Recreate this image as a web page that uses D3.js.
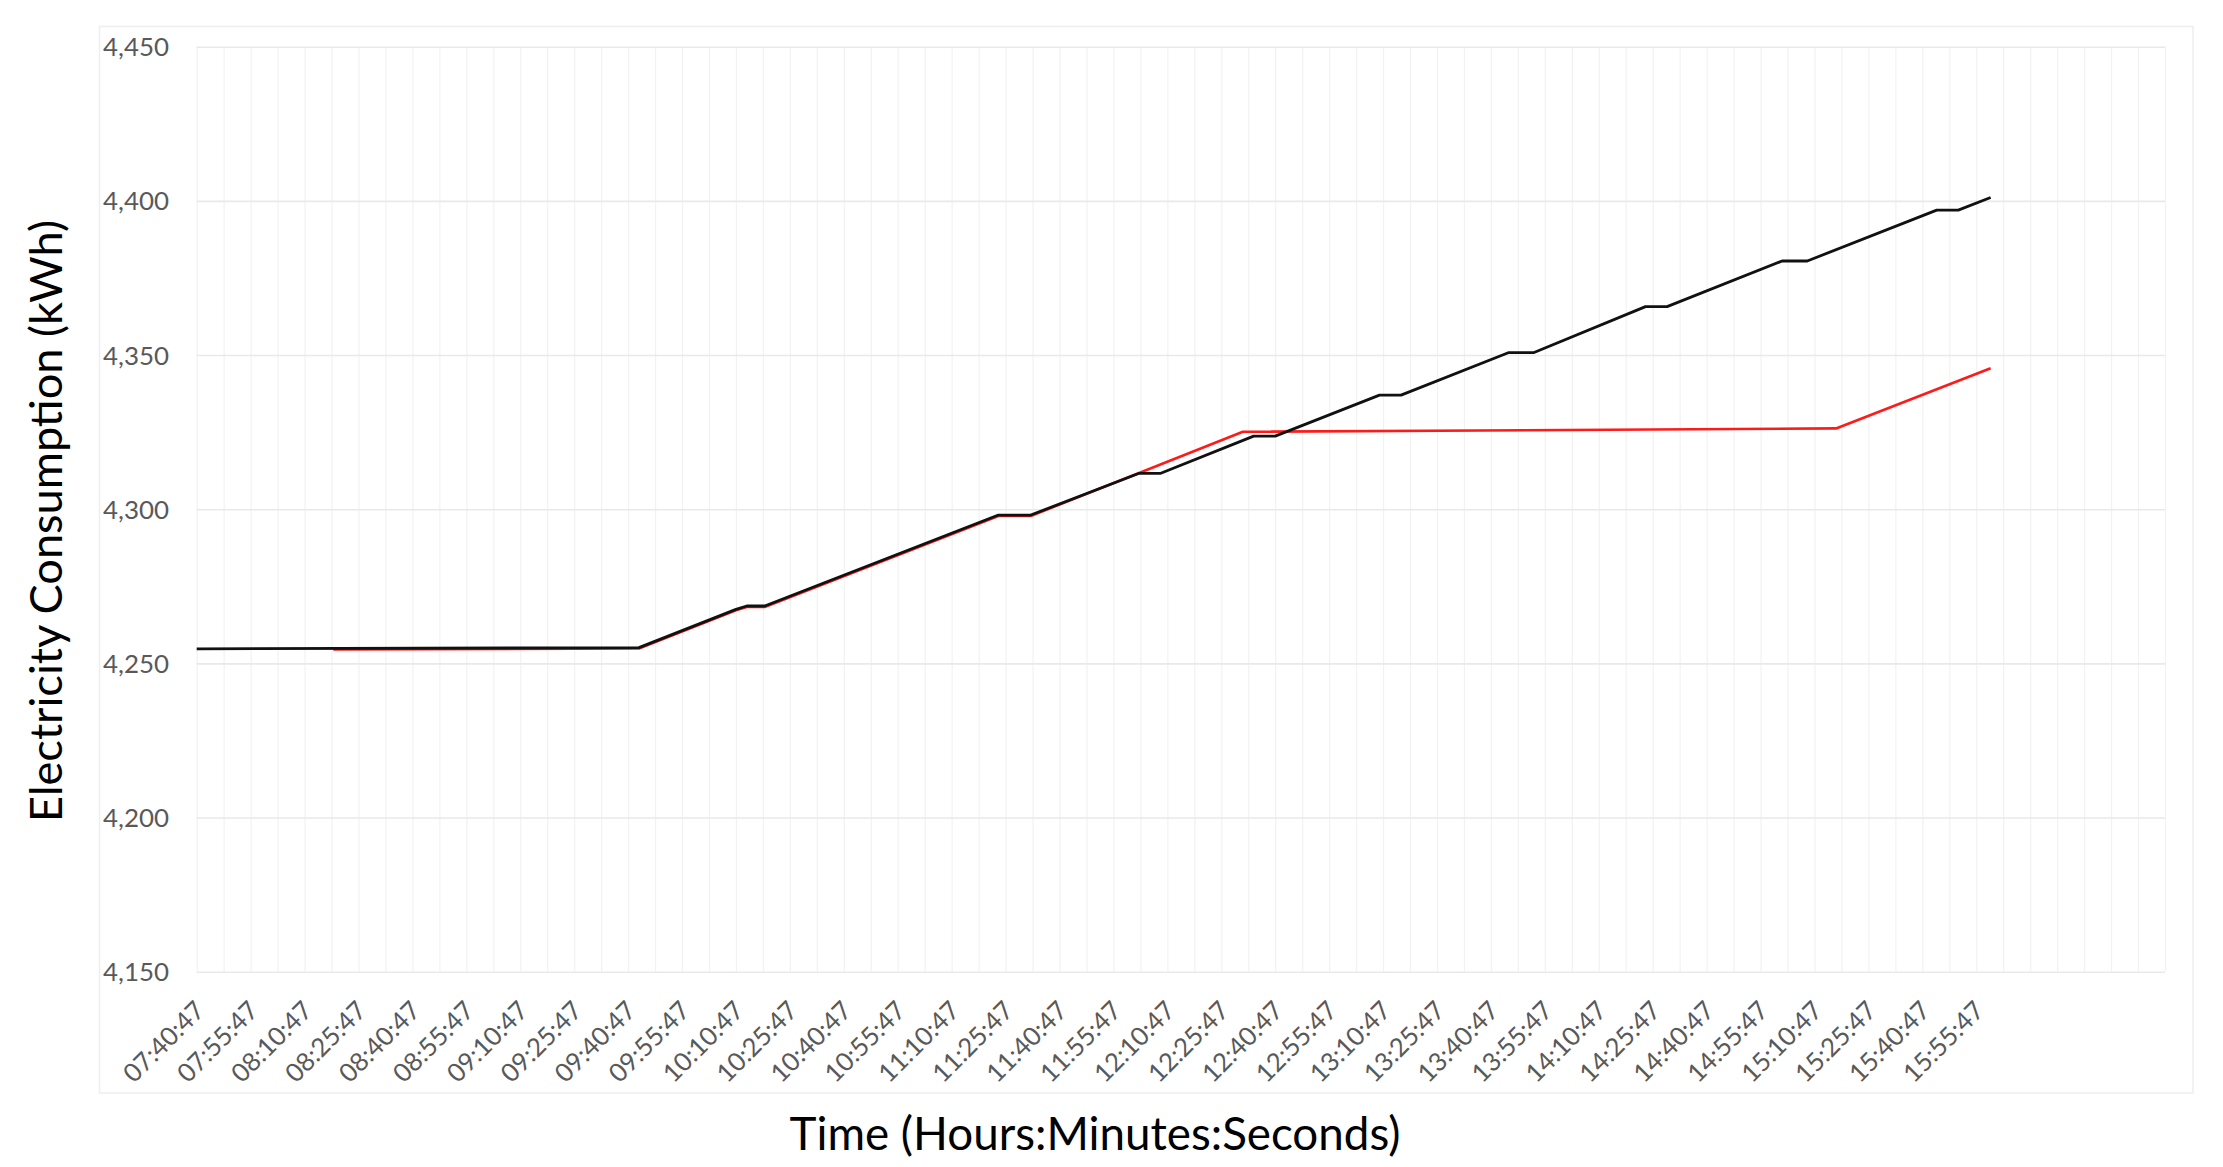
<!DOCTYPE html>
<html>
<head>
<meta charset="utf-8">
<script src="https://cdn.jsdelivr.net/npm/d3@7"></script>
<style>
  html, body { margin: 0; padding: 0; background: #ffffff; }
  svg { display: block; }
  text { font-family: Lato, "Open Sans", "DejaVu Sans", sans-serif; }
</style>
</head>
<body>
<svg id="chart" width="2223" height="1167"></svg>
<script>
// ---------------- data ----------------
const startTime = "07:40:47";
const xTickLabels = ["07:40:47","07:55:47","08:10:47","08:25:47","08:40:47","08:55:47","09:10:47","09:25:47",
  "09:40:47","09:55:47","10:10:47","10:25:47","10:40:47","10:55:47","11:10:47","11:25:47","11:40:47",
  "11:55:47","12:10:47","12:25:47","12:40:47","12:55:47","13:10:47","13:25:47","13:40:47","13:55:47",
  "14:10:47","14:25:47","14:40:47","14:55:47","15:10:47","15:25:47","15:40:47","15:55:47"];
const yTickValues = [4150, 4200, 4250, 4300, 4350, 4400, 4450];

const blackTimes = ["07:40:47","09:43:47","10:10:47","10:13:47","10:18:47","11:23:47","11:32:47","12:02:47",
  "12:08:47","12:34:47","12:40:47","13:09:47","13:15:47","13:45:47","13:52:47","14:23:47","14:29:47",
  "15:01:47","15:08:47","15:44:47","15:50:47","15:59:47"];
const blackValues = [4254.7,4255.1,4267.5,4268.6,4268.6,4298.1,4298.1,4311.6,
  4311.6,4323.7,4323.7,4337.0,4337.0,4350.8,4350.8,4365.7,4365.7,
  4380.5,4380.5,4397.0,4397.0,4401.1];

const redTimes = ["08:18:47","09:43:47","10:10:47","10:13:47","10:18:47","11:23:47","11:32:47","12:31:47",
  "15:16:47","15:59:47"];
const redValues = [4254.5,4254.8,4267.2,4268.3,4268.3,4297.8,4297.8,4325.1,
  4326.2,4345.7];

// ---------------- helpers ----------------
function toSec(t) { const p = t.split(":").map(Number); return p[0]*3600 + p[1]*60 + p[2]; }
const t0 = toSec(startTime);
const toMin = t => (toSec(t) - t0) / 60;

// ---------------- layout ----------------
const W = 2223, H = 1167;
const plot = { left: 196.7, right: 2165, top: 46.7, bottom: 971.7 };
const gridStepMin = 7.5, gridCount = 73;

const svg = d3.select("#chart");
svg.append("rect").attr("width", W).attr("height", H).attr("fill", "#ffffff");
// chart-area frame
svg.append("rect").attr("x", 99.5).attr("y", 26.5).attr("width", 2193 - 99.5).attr("height", 1093 - 26.5)
  .attr("fill", "none").attr("stroke", "#eeeeee").attr("stroke-width", 1.5);

const x = d3.scaleLinear().domain([0, gridStepMin * gridCount]).range([plot.left, plot.right]);
const y = d3.scaleLinear().domain([4150, 4450]).range([plot.bottom, plot.top]);

// vertical gridlines
const xGridVals = d3.range(0, gridCount + 1).map(i => i * gridStepMin);
const xg = svg.append("g").attr("transform", `translate(0,${plot.bottom})`)
  .call(d3.axisBottom(x).tickValues(xGridVals).tickSize(-(plot.bottom - plot.top)).tickFormat(""));
xg.select(".domain").remove();
xg.selectAll("line").attr("stroke", "#f2f2f2").attr("stroke-width", 1.2);

// horizontal gridlines
const yg = svg.append("g").attr("transform", `translate(${plot.left},0)`)
  .call(d3.axisLeft(y).tickValues(yTickValues).tickSize(-(plot.right - plot.left)).tickFormat(""));
yg.select(".domain").remove();
yg.selectAll("line").attr("stroke", "#e9e9e9").attr("stroke-width", 1.6);

// y axis labels
const ya = svg.append("g").attr("transform", `translate(169,0)`)
  .call(d3.axisLeft(y).tickValues(yTickValues).tickSize(0).tickPadding(0).tickFormat(d3.format(",")));
ya.select(".domain").remove();
ya.selectAll("text").attr("fill", "#595959").style("font-size", "25px").attr("dy", "0.35em");

// x axis labels
const xa = svg.append("g")
  .call(d3.axisBottom(x).tickValues(xTickLabels.map(toMin)).tickSize(0).tickFormat((d, i) => xTickLabels[i]));
xa.select(".domain").remove();
xa.selectAll("text")
  .attr("x", 0).attr("y", 0).attr("dy", 0)
  .attr("text-anchor", "end")
  .attr("fill", "#595959")
  .style("font-size", "25px")
  .attr("transform", "translate(9,1012) rotate(-45)");

// lines
const line = d3.line().x(d => x(d[0])).y(d => y(d[1]));
const redData = redTimes.map((t, i) => [toMin(t), redValues[i]]);
const blackData = blackTimes.map((t, i) => [toMin(t), blackValues[i]]);

svg.append("path").datum(redData).attr("d", line)
  .attr("fill", "none").attr("stroke", "#ff1a1a").attr("stroke-width", 2.6).attr("stroke-linejoin", "round");
svg.append("path").datum(blackData).attr("d", line)
  .attr("fill", "none").attr("stroke", "#111111").attr("stroke-width", 2.8).attr("stroke-linejoin", "round");

// axis titles
const xTitle = svg.append("text").text("Time (Hours:Minutes:Seconds)")
  .attr("x", 1095).attr("y", 1150).attr("text-anchor", "middle")
  .attr("fill", "#000000").style("font-size", "42px");
const yTitle = svg.append("text").text("Electricity Consumption (kWh)")
  .attr("text-anchor", "middle").attr("transform", "translate(62,521) rotate(-90)")
  .attr("fill", "#000000").style("font-size", "42px");

// fit text widths to the reference
function fit(sel, target) {
  const n = sel.node();
  const w = n.getComputedTextLength();
  const fs = parseFloat(n.style.fontSize);
  if (w > 0) sel.style("font-size", (fs * target / w).toFixed(2) + "px");
}
fit(xTitle, 611);
fit(yTitle, 602);
const yl = ya.select("text");
const yw = yl.node().getComputedTextLength();
if (yw > 0) ya.selectAll("text").style("font-size", (25 * 66 / yw).toFixed(2) + "px");
const xl = xa.select("text");
const xw = xl.node().getComputedTextLength();
if (xw > 0) xa.selectAll("text").style("font-size", (25 * 102 / xw).toFixed(2) + "px");
</script>
</body>
</html>
